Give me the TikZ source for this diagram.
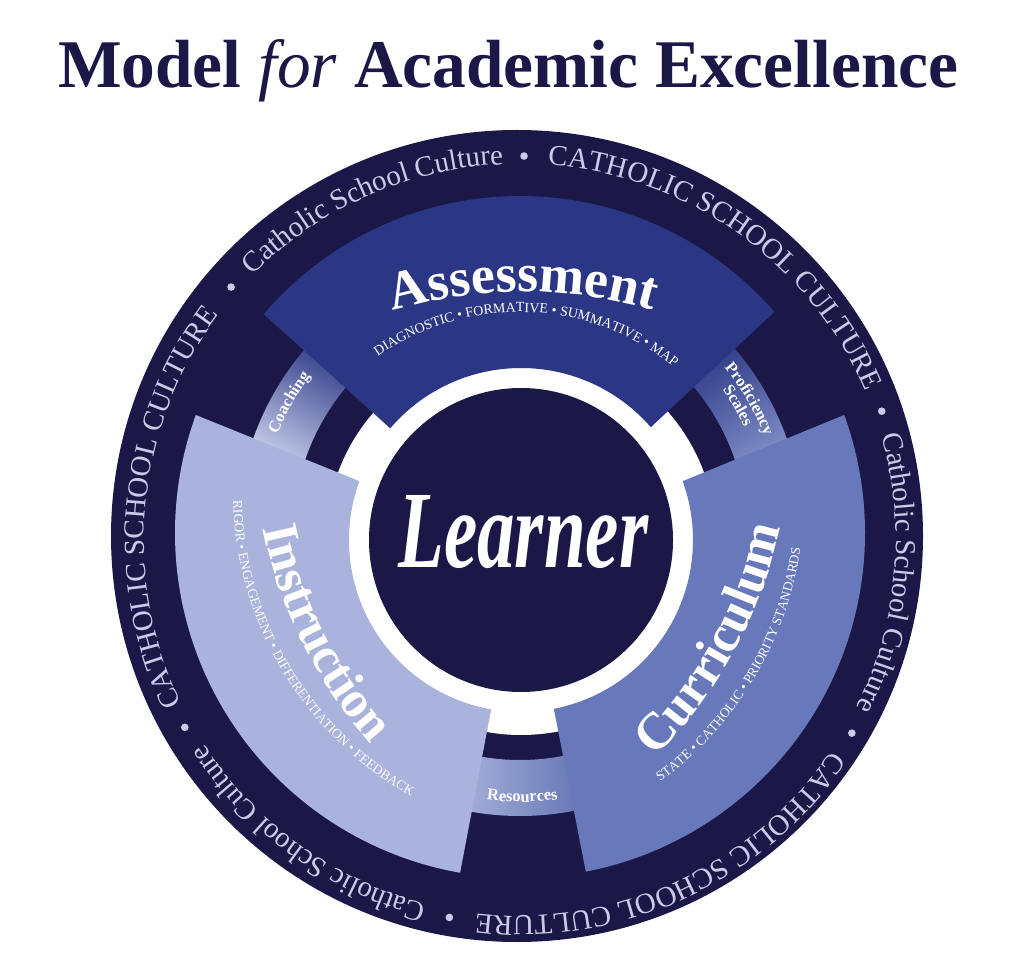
\documentclass[tikz,border=0pt]{standalone}
\usepackage{fontspec}
\setmainfont{Liberation Serif}
\usetikzlibrary{decorations.text,calc}
\definecolor{navy}{HTML}{1B1848}
\definecolor{asscol}{HTML}{2B3784}
\definecolor{inscol}{HTML}{AAB3DB}
\definecolor{curcol}{HTML}{6779BB}
\definecolor{ringtxt}{HTML}{C9CBE8}
\definecolor{coachlight}{HTML}{C3C9E8}
\definecolor{reslight}{HTML}{A9B2DC}
\begin{document}
\begin{tikzpicture}[x=1pt,y=1pt,
  arctext/.style={decorate,decoration={text along path,text align=center,text color=#1}},
  arctext/.default=white]
\useasboundingbox (0,0) rectangle (1016,964);
\fill[white] (0,0) rectangle (1016,964);

\coordinate (C1) at (521,424);
\coordinate (C2) at (520,431);
\coordinate (CO) at (517,428);
\coordinate (CR) at (520,424);
\coordinate (OA) at (523,202);
\coordinate (OAs) at (519,406);
\coordinate (OI) at (718.7,528.2);
\coordinate (OIs) at (582,472);
\coordinate (OC) at (325,535);
\coordinate (OCs) at (453,465.5);

\node[anchor=base west,inner sep=0,text=navy] (title) at (58,876)
  {\resizebox{900pt}{48pt}{\bfseries Model \textmd{\itshape for} Academic Excellence}};

% outer disc and white ring
\fill[navy] (CO) circle (406);
\fill[white] (C1) circle (195);

% connector bands
\shade[top color=asscol,bottom color=coachlight,shading angle=-30]
  ($(C2)+(136:283)$) arc[start angle=136,end angle=163,radius=283]
  -- ($(C2)+(163:227)$) arc[start angle=163,end angle=136,radius=227] -- cycle;
\shade[top color=asscol,bottom color=curcol!85!white,shading angle=30]
  ($(C2)+(17:283)$) arc[start angle=17,end angle=44,radius=283]
  -- ($(C2)+(44:227)$) arc[start angle=44,end angle=17,radius=227] -- cycle;
\shade[left color=reslight,right color=curcol!95!black]
  ($(C2)+(257:283)$) arc[start angle=257,end angle=284,radius=283]
  -- ($(C2)+(284:227)$) arc[start angle=284,end angle=257,radius=227] -- cycle;

% main segments
\fill[asscol] ($(C2)+(41:337)$) arc[start angle=41,end angle=139.5,radius=337]
  -- ($(C1)+(139.5:172)$) arc[start angle=139.5,end angle=41,radius=172] -- cycle;
\fill[inscol] ($(C2)+(160:345)$) arc[start angle=160,end angle=260,radius=345]
  -- ($(C1)+(260:172)$) arc[start angle=260,end angle=160,radius=172] -- cycle;
\fill[curcol] ($(C2)+(281:345)$) arc[start angle=281,end angle=380,radius=345]
  -- ($(C1)+(380:172)$) arc[start angle=380,end angle=281,radius=172] -- cycle;

% learner disc
\fill[navy] (C1) circle (152);
\node[anchor=base west,inner sep=0,text=white] (learner) at (398,397)
  {\resizebox{250pt}{72pt}{\bfseries\itshape Learner}};

% ring text
\foreach \a in {19.6,89.4,138.8,209.2,259.4,329.8}
  \fill[ringtxt] ($(CR)+(\a:384)$) circle (3.8);
\path[arctext=ringtxt,decoration={text={|\fontsize{29pt}{29pt}\selectfont|CATHOLIC SCHOOL CULTURE}}]
  ($(CR)+(99.5:376)$) arc[start angle=99.5,end angle=9.5,radius=376];
\path[arctext=ringtxt,decoration={text={|\fontsize{29pt}{29pt}\selectfont|CATHOLIC SCHOOL CULTURE}}]
  ($(CR)+(219.5:376)$) arc[start angle=219.5,end angle=129.5,radius=376];
\path[arctext=ringtxt,decoration={text={|\fontsize{29pt}{29pt}\selectfont|CATHOLIC SCHOOL CULTURE}}]
  ($(CR)+(339.6:376)$) arc[start angle=339.6,end angle=249.6,radius=376];
\path[arctext=ringtxt,decoration={text={|\fontsize{29pt}{29pt}\selectfont|Catholic School Culture}}]
  ($(CR)+(158.9:376)$) arc[start angle=158.9,end angle=68.9,radius=376];
\path[arctext=ringtxt,decoration={text={|\fontsize{29pt}{29pt}\selectfont|Catholic School Culture}}]
  ($(CR)+(279.2:376)$) arc[start angle=279.2,end angle=189.2,radius=376];
\path[arctext=ringtxt,decoration={text={|\fontsize{29pt}{29pt}\selectfont|Catholic School Culture}}]
  ($(CR)+(399.8:376)$) arc[start angle=399.8,end angle=309.8,radius=376];

% segment titles
\path[arctext,decoration={text={|\bfseries\fontsize{54pt}{54pt}\selectfont|Assessment}}]
  ($(OA)+(115:470)$) arc[start angle=115,end angle=65,radius=470];
\path[arctext,decoration={text={|\fontsize{14pt}{14pt}\selectfont|DIAGNOSTIC • FORMATIVE • SUMMATIVE • MAP}}]
  ($(OAs)+(138:246)$) arc[start angle=138,end angle=38,radius=246];
\path[arctext,decoration={text={|\bfseries\fontsize{51pt}{51pt}\selectfont|Instruction}}]
  ($(OI)+(181.5:465)$) arc[start angle=181.5,end angle=231.5,radius=465];
\path[arctext,decoration={text={|\fontsize{13.5pt}{13.5pt}\selectfont|RIGOR • ENGAGEMENT • DIFFERENTIATION • FEEDBACK}}]
  ($(OIs)+(171:349)$) arc[start angle=171,end angle=251,radius=349];
\path[arctext,decoration={text={|\bfseries\fontsize{52pt}{52pt}\selectfont|Curriculum}}]
  ($(OC)+(306.5:466)$) arc[start angle=306.5,end angle=356.5,radius=466];
\path[arctext,decoration={text={|\fontsize{13.5pt}{13.5pt}\selectfont|STATE • CATHOLIC • PRIORITY STANDARDS}}]
  ($(OCs)+(294:351)$) arc[start angle=294,end angle=364,radius=351];

% connector labels
\path[arctext,decoration={text={|\bfseries\fontsize{16.5pt}{16.5pt}\selectfont|Coaching}}]
  ($(C2)+(170.5:262)$) arc[start angle=170.5,end angle=130.5,radius=262];
\path[arctext,decoration={text={|\bfseries\fontsize{16.5pt}{16.5pt}\selectfont|Proficiency}}]
  ($(C2)+(50.3:263)$) arc[start angle=50.3,end angle=10.3,radius=263];
\path[arctext,decoration={text={|\bfseries\fontsize{16.5pt}{16.5pt}\selectfont|Scales}}]
  ($(C2)+(50.3:248)$) arc[start angle=50.3,end angle=10.3,radius=248];
\path[arctext,decoration={text={|\bfseries\fontsize{16.5pt}{16.5pt}\selectfont|Resources}}]
  ($(C2)+(250.5:269)$) arc[start angle=250.5,end angle=290.5,radius=269];
\end{tikzpicture}
\end{document}
